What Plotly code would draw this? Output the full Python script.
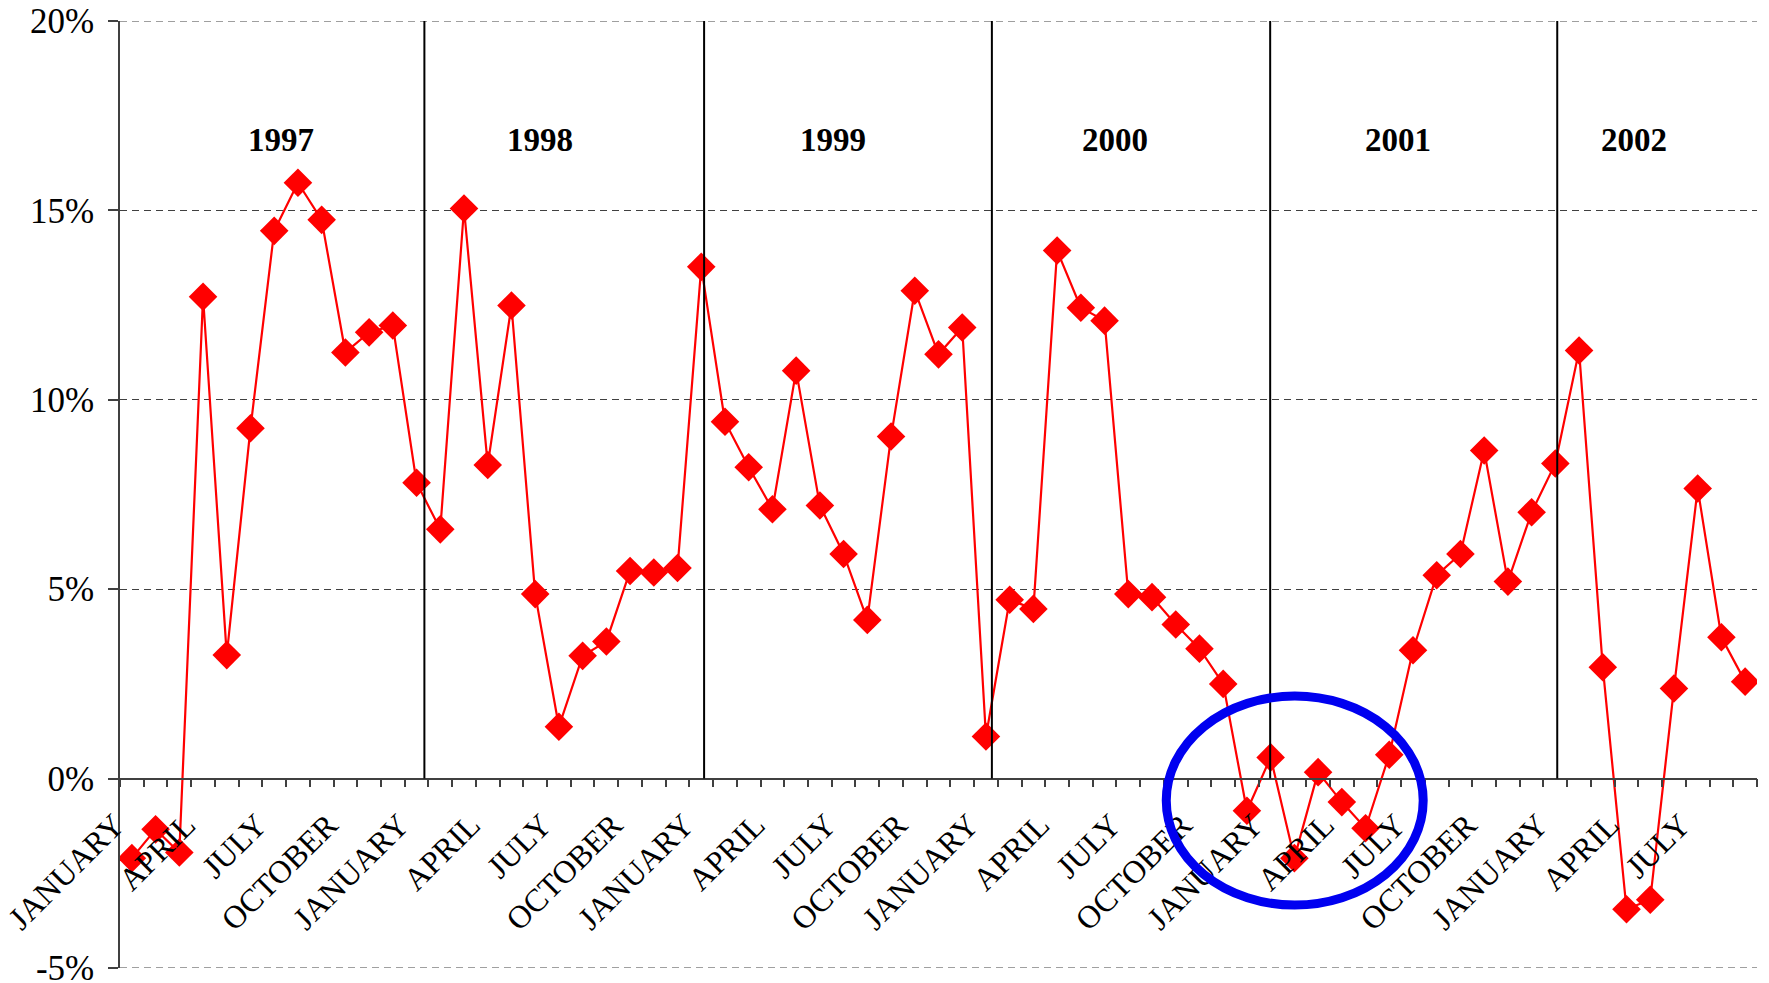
import plotly.graph_objects as go

# ---- data ----
years = [1997, 1998, 1999, 2000, 2001, 2002]
months = ["JANUARY", "FEBRUARY", "MARCH", "APRIL", "MAY", "JUNE", "JULY",
          "AUGUST", "SEPTEMBER", "OCTOBER", "NOVEMBER", "DECEMBER"]
values_1997 = [-2.10, -1.34, -1.95, 12.72, 3.26, 9.25, 14.46, 15.73, 14.75, 11.25, 11.78, 11.96]
values_1998 = [7.81, 6.58, 15.05, 8.28, 12.49, 4.87, 1.37, 3.24, 3.62, 5.48, 5.44, 5.56]
values_1999 = [13.51, 9.42, 8.22, 7.11, 10.77, 7.21, 5.93, 4.19, 9.03, 12.88, 11.20, 11.91]
values_2000 = [1.11, 4.72, 4.48, 13.94, 12.43, 12.09, 4.87, 4.79, 4.07, 3.43, 2.50, -0.85]
values_2001 = [0.56, -2.10, 0.17, -0.62, -1.31, 0.63, 3.39, 5.37, 5.93, 8.66, 5.20, 7.03]
values_2002 = [8.32, 11.30, 2.94, -3.45, -3.20, 2.38, 7.66, 3.73, 2.56]
tick_months = ["JANUARY", "APRIL", "JULY", "OCTOBER"]
y_ticks = [-5, 0, 5, 10, 15, 20]
y_tick_text = ["-5%", "0%", "5%", "10%", "15%", "20%"]
year_divider_pos = [12.33, 24.12, 36.25, 47.98, 60.08]
year_label_pos = [6.29, 17.19, 29.54, 41.43, 53.37, 63.33]
year_label_y = 16.86
circle_box = dict(x0=43.6, x1=54.43, y0=-3.34, y1=2.18)

values = values_1997 + values_1998 + values_1999 + values_2000 + values_2001 + values_2002
labels = [f"{m} {y}" for y in years for m in months][:len(values)]
x_idx = list(range(len(values)))

tickvals = [i for i in x_idx if labels[i].split()[0] in tick_months]
ticktext = [labels[i].split()[0] for i in tickvals]

FONT = "Liberation Serif"
y_lo, y_hi = y_ticks[0], y_ticks[-1]
GRID = "#404040"
DASH = "7px,5px"

fig = go.Figure()
fig.add_trace(go.Scatter(
    x=x_idx, y=values, mode="lines+markers",
    line=dict(color="#FF0000", width=2.2),
    marker=dict(symbol="diamond", size=22, color="#FF0000"),
    text=labels, hoverinfo="text+y", showlegend=False,
))

shapes = []
# gridlines at the two range edges (plotly clips grid lines lying on the range ends)
for yv in (y_lo, y_hi):
    shapes.append(dict(type="line", xref="paper", yref="y", x0=0, x1=1, y0=yv, y1=yv,
                       line=dict(color=GRID, width=1, dash=DASH), layer="below"))
for xp in year_divider_pos:
    shapes.append(dict(type="line", xref="x", yref="y", x0=xp, x1=xp, y0=0, y1=20,
                       line=dict(color="black", width=2), layer="above"))
shapes.append(dict(type="circle", xref="x", yref="y", **circle_box,
                   line=dict(color="#0000F0", width=9), layer="above"))

annotations = []
for yr, xp in zip(years, year_label_pos):
    annotations.append(dict(x=xp, y=year_label_y, xref="x", yref="y", text=f"<b>{yr}</b>",
                            showarrow=False, font=dict(family=FONT, size=33, color="black")))

fig.update_layout(
    width=1769, height=983,
    margin=dict(l=120, r=12, t=21, b=15, autoexpand=False),
    paper_bgcolor="white", plot_bgcolor="white",
    shapes=shapes, annotations=annotations,
    font=dict(family=FONT, color="black"),
    xaxis=dict(
        range=[-0.5, len(values) - 0.5], anchor="free", position=(0 - y_lo) / (y_hi - y_lo),
        showline=True, linecolor=GRID, linewidth=1.5,
        showgrid=False, zeroline=False, automargin=False,
        tickmode="array", tickvals=tickvals, ticktext=ticktext,
        tickangle=-45, ticks="", tickfont=dict(family=FONT, size=32, color="black"),
        ticklabelshift=-17, ticklabelstandoff=14, ticklabeloverflow="allow",
        minor=dict(ticks="outside", ticklen=8, tickcolor=GRID, tickwidth=1.5,
                   tickmode="linear", tick0=-0.5, dtick=1, showgrid=False),
    ),
    yaxis=dict(
        range=[y_lo, y_hi], tickmode="array", tickvals=y_ticks, ticktext=y_tick_text,
        ticks="outside", ticklen=10, tickcolor=GRID, tickwidth=1.5,
        showline=True, linecolor=GRID, linewidth=1.5,
        showgrid=True, gridcolor=GRID, gridwidth=1, griddash=DASH,
        zeroline=False, ticklabelstandoff=7, automargin=False, ticklabeloverflow="allow",
        tickfont=dict(family=FONT, size=35, color="black"),
    ),
)

fig.write_html("out.html", config={"displayModeBar": False},
               post_script="document.body.style.margin='0';document.body.style.overflow='hidden';")
